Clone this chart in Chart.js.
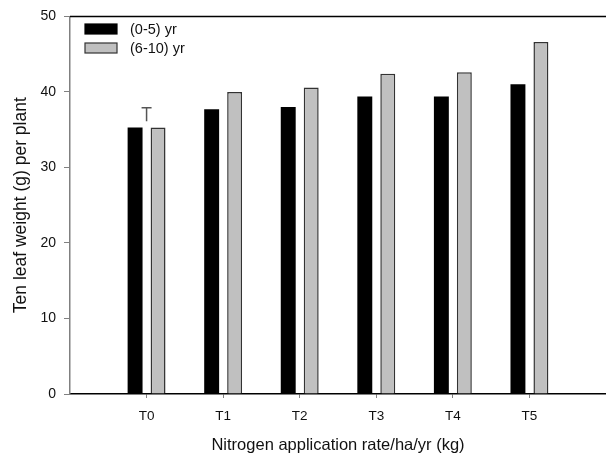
<!DOCTYPE html>
<html>
<head>
<meta charset="utf-8">
<script src="https://cdn.jsdelivr.net/npm/chart.js@4"></script>
<style>
  body { margin: 0; background: #fff; }
  #wrap { width: 606px; height: 459px; }
</style>
</head>
<body>
<div id="wrap"><canvas id="bar-chart"></canvas></div>
<script>
var categories = ["T0", "T1", "T2", "T3", "T4", "T5"];
var young = [35.3, 37.7, 38.0, 39.4, 39.4, 41.0];   // (0-5) yr
var old = [35.3, 40.0, 40.6, 42.4, 42.6, 46.6];     // (6-10) yr
var errLow = [36.1];
var errHigh = [37.9];
var yTicks = [0, 10, 20, 30, 40, 50];

function points(vals) {
    return vals.map(function (v, i) { return { x: i + 1, y: v }; });
}

var extras = {
    id: "extras",
    afterDatasetsDraw: function (chart) {
        var c = chart.ctx, a = chart.chartArea;
        var xs = chart.scales.x, ys = chart.scales.y;
        c.save();
        // top frame line
        c.strokeStyle = "#000";
        c.lineWidth = 1.5;
        c.beginPath();
        c.moveTo(a.left, a.top);
        c.lineTo(a.right, a.top);
        c.stroke();
        // error bar
        c.strokeStyle = "#555";
        c.lineWidth = 1.5;
        errLow.forEach(function (lo, i) {
            var px = xs.getPixelForValue(i + 1);
            var top = ys.getPixelForValue(errHigh[i]);
            var bot = ys.getPixelForValue(lo);
            c.beginPath();
            c.moveTo(px, bot);
            c.lineTo(px, top);
            c.moveTo(px - 5, top);
            c.lineTo(px + 5, top);
            c.stroke();
        });
        // legend
        c.font = "14.5px 'Liberation Sans', Arial, sans-serif";
        c.textBaseline = "middle";
        chart.data.datasets.forEach(function (ds, i) {
            var y = 24 + i * 19;
            c.fillStyle = ds.backgroundColor;
            c.fillRect(85, y, 32, 10);
            c.strokeStyle = ds.borderColor;
            c.lineWidth = 1.2;
            c.strokeRect(85, y, 32, 10);
            c.fillStyle = "#111";
            c.fillText(ds.label, 130, y + 5.5);
        });
        c.restore();
    }
};

new Chart(document.getElementById("bar-chart"), {
    type: "bar",
    data: {
        datasets: [{
            label: "(0-5) yr",
            backgroundColor: "#000",
            borderColor: "#000",
            borderWidth: 0,
            data: points(young)
        }, {
            label: "(6-10) yr",
            backgroundColor: "#c0c0c0",
            borderColor: "#333",
            borderWidth: 1.5,
            data: points(old)
        }]
    },
    options: {
        responsive: true,
        maintainAspectRatio: false,
        animation: false,
        categoryPercentage: 0.6,
        barPercentage: 0.65,
        layout: { padding: { top: 16, right: 0, left: 0, bottom: 0 } },
        plugins: {
            legend: { display: false },
            tooltip: { enabled: false }
        },
        scales: {
            x: {
                type: "linear",
                min: 0,
                max: 7,
                offset: false,
                afterBuildTicks: function (axis) {
                    axis.ticks = categories.map(function (c, i) { return { value: i + 1 }; });
                },
                afterFit: function (scale) { scale.height = 65; },
                grid: {
                    display: true,
                    offset: false,
                    drawOnChartArea: false,
                    drawTicks: true,
                    tickLength: 4,
                    color: "#808080"
                },
                border: { color: "#000", width: 1.5 },
                ticks: {
                    padding: 10,
                    color: "#111",
                    font: { size: 13.5, family: "'Liberation Sans', Arial, sans-serif" },
                    callback: function (v) { return categories[v - 1]; }
                },
                title: {
                    display: true,
                    text: "Nitrogen application rate/ha/yr (kg)",
                    color: "#111",
                    padding: { top: 0, bottom: 4 },
                    font: { size: 16.5, family: "'Liberation Sans', Arial, sans-serif" }
                }
            },
            y: {
                min: 0,
                max: 50,
                afterBuildTicks: function (axis) {
                    axis.ticks = yTicks.map(function (v) { return { value: v }; });
                },
                afterFit: function (scale) { scale.width = 70; },
                grid: {
                    display: true,
                    drawOnChartArea: false,
                    drawTicks: true,
                    tickLength: 6,
                    color: "#808080"
                },
                border: { color: "#808080", width: 1.5 },
                ticks: {
                    padding: 8,
                    color: "#111",
                    font: { size: 14, family: "'Liberation Sans', Arial, sans-serif" }
                },
                title: {
                    display: true,
                    text: "Ten leaf weight (g) per plant",
                    color: "#111",
                    padding: { top: 10.5, bottom: 0 },
                    font: { size: 17.5, family: "'Liberation Sans', Arial, sans-serif" }
                }
            }
        }
    },
    plugins: [extras]
});
</script>
</body>
</html>
